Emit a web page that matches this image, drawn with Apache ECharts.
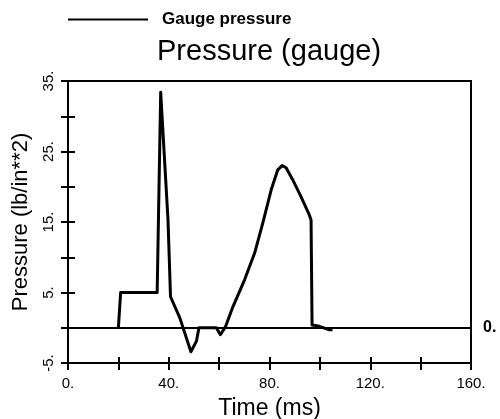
<!DOCTYPE html>
<html>
<head>
<meta charset="utf-8">
<script src="https://cdn.jsdelivr.net/npm/echarts@6/dist/echarts.min.js"></script>
<style>html,body{margin:0;padding:0;background:#fff}#c{width:500px;height:419px}</style>
</head>
<body>
<div id="c"></div>
<script>
const seriesName = 'Gauge pressure';
const titleText = 'Pressure (gauge)';
const xName = 'Time (ms)';
const yName = 'Pressure (lb/in**2)';
const timeMs = [20, 20.9, 35.4, 36.8, 39.7, 40.7, 44.4, 48.8, 51, 52, 58.9, 60.5, 62.6, 65.5, 70.1, 74.1, 77.3, 80.7, 83.3, 85.0, 86.6, 89.2, 92.5, 95.8, 96.5, 96.9, 99.8, 103.8, 105];
const pressure = [0, 5.0, 5.0, 33.4, 15.3, 4.4, 1.4, -3.4, -1.9, 0, 0, -1.0, 0.2, 3.0, 6.8, 10.6, 14.8, 19.6, 22.4, 23.0, 22.7, 21.0, 18.6, 16.0, 15.3, 0.4, 0.2, -0.3, -0.3];
const xMin = 0, xMax = 160, xStep = 20, xLabelStep = 40;
const yMin = -5, yMax = 35, yStep = 5;
const yLabelValues = [-5, 5, 15, 25, 35];

const font = 'Liberation Sans, Arial, Helvetica, sans-serif';
const data = timeMs.map((t, i) => [t, pressure[i]]);
const chart = echarts.init(document.getElementById('c'), null, {renderer: 'canvas'});
const axisLine = {show: true, onZero: false, lineStyle: {color: '#000', width: 2}};
const hiddenLine = {show: false, onZero: false};
chart.setOption({
  animation: false,
  backgroundColor: '#fff',
  title: {text: titleText, left: 152, top: 32, textStyle: {fontFamily: font, fontSize: 29, fontWeight: 'normal', color: '#000'}},
  legend: {
    left: 63, top: 6,
    data: [{name: seriesName, icon: 'rect'}],
    itemWidth: 80, itemHeight: 2,
    textStyle: {fontFamily: font, fontSize: 17, fontWeight: 'bold', color: '#000', padding: [0, 0, 0, 9]}
  },
  grid: {left: 68, right: 29, top: 81, bottom: 56, containLabel: false, outerBoundsMode: 'none',
         show: true, borderColor: '#000', borderWidth: 2, backgroundColor: 'transparent'},
  xAxis: [
    {type: 'value', min: xMin, max: xMax, interval: xStep, position: 'bottom',
     name: xName, nameLocation: 'middle', nameGap: 34,
     nameTextStyle: {fontFamily: font, fontSize: 23, color: '#000'},
     axisLine: axisLine, splitLine: {show: false},
     axisTick: {show: true, inside: false, length: 7, lineStyle: {color: '#000', width: 2}},
     axisLabel: {margin: 13, fontFamily: font, fontSize: 15, color: '#000',
       formatter: v => (v % xLabelStep === 0 ? v + '.' : '')}},
    {type: 'value', min: xMin, max: xMax, interval: xStep, position: 'bottom', offset: 0,
     axisLine: hiddenLine, splitLine: {show: false}, axisLabel: {show: false},
     axisTick: {show: true, inside: true, length: 6, lineStyle: {color: '#000', width: 2}}}
  ],
  yAxis: [
    {type: 'value', min: yMin, max: yMax, interval: yStep, position: 'left',
     name: yName, nameLocation: 'middle', nameGap: 36,
     nameTextStyle: {fontFamily: font, fontSize: 22, color: '#000'},
     axisLine: axisLine, splitLine: {show: false},
     axisTick: {show: true, inside: false, length: 7, lineStyle: {color: '#000', width: 2}},
     axisLabel: {rotate: 90, margin: 12, fontFamily: font, fontSize: 15, color: '#000',
       formatter: v => (yLabelValues.indexOf(v) >= 0 ? v + '.' : '')}},
    {type: 'value', min: yMin, max: yMax, interval: yStep, position: 'left', offset: 0,
     axisLine: hiddenLine, splitLine: {show: false}, axisLabel: {show: false},
     axisTick: {show: true, inside: true, length: 7, lineStyle: {color: '#000', width: 2}}}
  ],
  series: [{
    name: seriesName, type: 'line', data: data, showSymbol: false, symbol: 'none',
    xAxisIndex: 0, yAxisIndex: 0,
    lineStyle: {color: '#000', width: 3, join: 'round'}, itemStyle: {color: '#000'},
    markLine: {
      silent: true, symbol: 'none', animation: false,
      lineStyle: {color: '#000', width: 2, type: 'solid'},
      label: {show: true, position: 'end', formatter: '0.', fontFamily: font, fontSize: 16, fontWeight: 'bold', color: '#000', distance: 12},
      data: [{yAxis: 0}]
    }
  }]
});
</script>
</body>
</html>
